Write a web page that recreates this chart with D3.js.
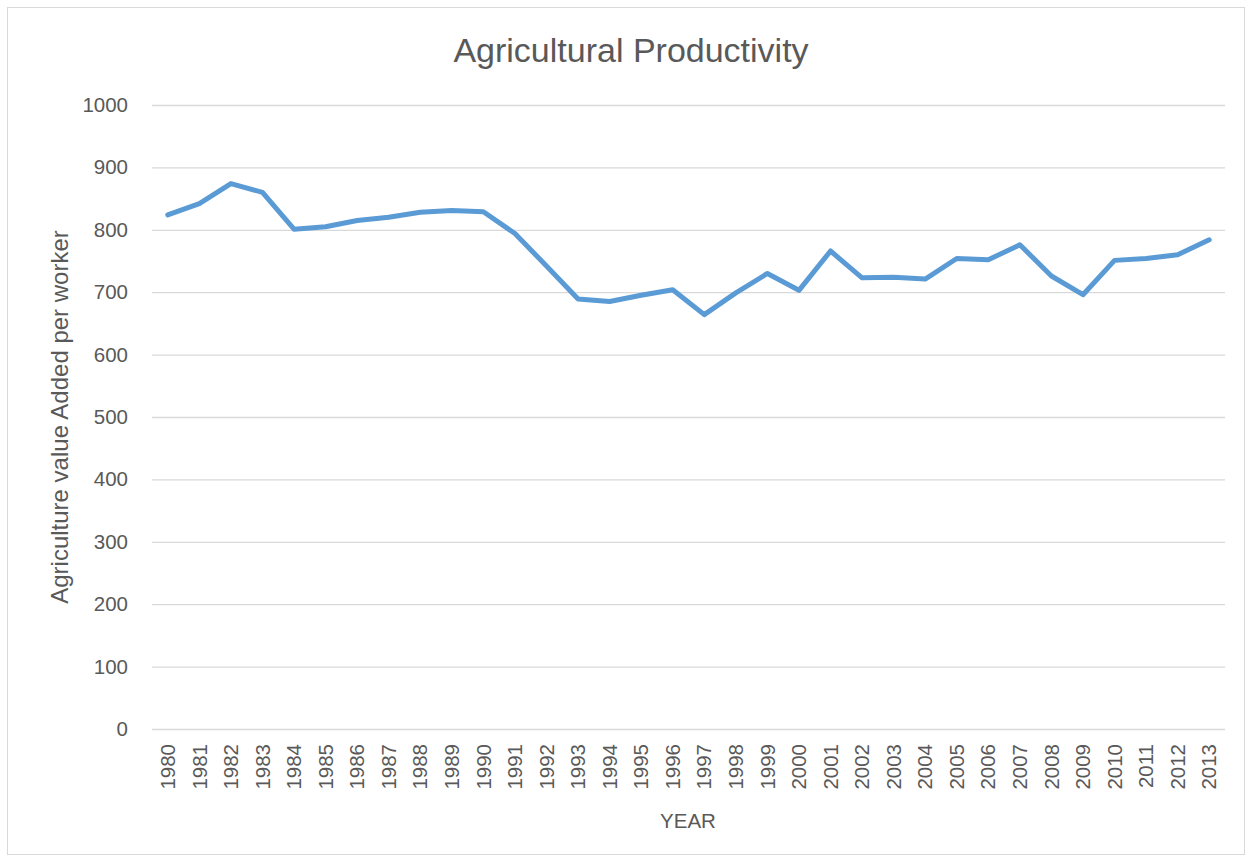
<!DOCTYPE html>
<html>
<head>
<meta charset="utf-8">
<script src="https://cdn.jsdelivr.net/npm/d3@7"></script>
<style>
  body { margin: 0; background: #fff; }
  svg { display: block; }
  text { font-family: "Liberation Sans", Arial, sans-serif; fill: #595959; }
</style>
</head>
<body>
<svg id="chart" width="1252" height="862"></svg>
<script>
// years on the category axis
var years = [1980, 1981, 1982, 1983, 1984, 1985, 1986, 1987, 1988, 1989,
             1990, 1991, 1992, 1993, 1994, 1995, 1996, 1997, 1998, 1999,
             2000, 2001, 2002, 2003, 2004, 2005, 2006, 2007, 2008, 2009,
             2010, 2011, 2012, 2013];

// agriculture value added per worker
var values = [824, 842, 874, 860, 801, 805, 815, 820, 828, 831,
              829, 794, 742, 689, 685, 695, 704, 664, 699, 730,
              703, 766, 723, 724, 721, 754, 752, 776, 726, 696,
              751, 754, 760, 784];

var yTicks = [0, 100, 200, 300, 400, 500, 600, 700, 800, 900, 1000];

var svg = d3.select("#chart"),
    margin = { top: 105, right: 27, bottom: 133, left: 152 },
    width = +svg.attr("width") - margin.left - margin.right,
    height = +svg.attr("height") - margin.top - margin.bottom;

// chart frame
svg.append("rect")
    .attr("x", 7.5).attr("y", 7.5)
    .attr("width", 1237).attr("height", 847)
    .attr("fill", "#fff")
    .attr("stroke", "#d9d9d9");

var g = svg.append("g")
    .attr("transform", "translate(" + margin.left + "," + margin.top + ")");

var x = d3.scaleBand()
    .domain(years)
    .range([0, width]);

var y = d3.scaleLinear()
    .domain([0, 1000])
    .range([height, 0]);

// gridlines + y labels
var yAxis = g.append("g")
    .call(d3.axisLeft(y).tickValues(yTicks).tickFormat(d3.format("d"))
        .tickSize(-width).tickPadding(24));
yAxis.select(".domain").remove();
yAxis.selectAll("line").attr("stroke", "#d9d9d9").attr("stroke-width", 1.3);
yAxis.selectAll("text").style("font-size", "20.5px").attr("fill", "#595959");

// x labels
var xAxis = g.append("g")
    .attr("transform", "translate(0," + height + ")")
    .call(d3.axisBottom(x).tickSize(0));
xAxis.select(".domain").remove();
xAxis.selectAll("text")
    .style("font-size", "20.5px")
    .attr("fill", "#595959")
    .attr("transform", "rotate(-90)")
    .attr("text-anchor", "end")
    .attr("x", -15)
    .attr("y", 0)
    .attr("dy", "0.35em");

var line = d3.line()
    .x(function (d, i) { return x(years[i]) + x.bandwidth() / 2; })
    .y(function (d) { return y(d); });

g.append("path")
    .datum(values)
    .attr("fill", "none")
    .attr("stroke", "#5b9bd5")
    .attr("stroke-width", 5)
    .attr("stroke-linejoin", "round")
    .attr("stroke-linecap", "round")
    .attr("d", line);

// titles
svg.append("text")
    .attr("x", 631).attr("y", 62)
    .attr("text-anchor", "middle")
    .style("font-size", "34px")
    .text("Agricultural Productivity");

svg.append("text")
    .attr("x", 688).attr("y", 828)
    .attr("text-anchor", "middle")
    .style("font-size", "20.5px")
    .text("YEAR");

svg.append("text")
    .attr("transform", "translate(68,417) rotate(-90)")
    .attr("text-anchor", "middle")
    .style("font-size", "24px")
    .text("Agriculture value Added per worker");
</script>
</body>
</html>
